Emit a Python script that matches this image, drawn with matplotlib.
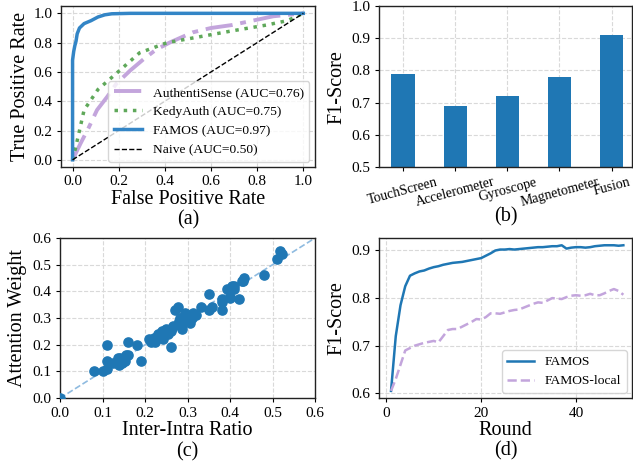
import matplotlib
matplotlib.use("Agg")
import matplotlib.pyplot as plt
import numpy as np

plt.rcParams["font.family"] = ["Liberation Serif", "DejaVu Serif"]

# (a) ROC curves
famos_fpr = [0.0, 0.0, 0.005, 0.01, 0.015, 0.02, 0.025, 0.03, 0.05, 0.08, 0.11, 0.14, 0.17, 0.25, 0.5, 1.0]
famos_tpr = [0.0, 0.68, 0.74, 0.78, 0.81, 0.86, 0.88, 0.90, 0.93, 0.95, 0.975, 0.99, 0.997, 1.0, 1.0, 1.0]
auth_fpr = [0.0, 0.034, 0.07, 0.106, 0.15, 0.19, 0.25, 0.31, 0.36, 0.42, 0.52, 0.6, 0.69, 0.78, 0.87, 1.0]
auth_tpr = [0.0, 0.11, 0.22, 0.34, 0.43, 0.52, 0.61, 0.69, 0.75, 0.80, 0.87, 0.90, 0.92, 0.95, 0.98, 1.0]
kedy_fpr = [0.0, 0.01, 0.02, 0.05, 0.11, 0.19, 0.29, 0.41, 0.55, 0.69, 0.84, 0.93, 1.0]
kedy_tpr = [0.0, 0.06, 0.13, 0.34, 0.48, 0.59, 0.73, 0.80, 0.84, 0.88, 0.92, 0.95, 1.0]

# (b) per-modality F1
modalities = ["TouchScreen", "Accelerometer", "Gyroscope", "Magnetometer", "Fusion"]
modality_f1 = [0.79, 0.69, 0.72, 0.78, 0.91]

# (c) inter-intra ratio vs attention weight
ratio = [0.0, 0.081, 0.10, 0.11, 0.111, 0.111, 0.125, 0.137, 0.139, 0.145, 0.15, 0.155, 0.153,
         0.16, 0.18, 0.19, 0.21, 0.215, 0.22, 0.223, 0.227, 0.23, 0.239, 0.243, 0.247, 0.251,
         0.255, 0.259, 0.261, 0.263, 0.266, 0.27, 0.278, 0.28, 0.282, 0.286, 0.288, 0.292,
         0.295, 0.30, 0.306, 0.31, 0.313, 0.321, 0.332, 0.35, 0.351, 0.357, 0.38, 0.382,
         0.382, 0.392, 0.40, 0.40, 0.409, 0.41, 0.42, 0.427, 0.433, 0.48, 0.51, 0.518, 0.522,
         0.14, 0.145, 0.16, 0.24, 0.25, 0.26, 0.28, 0.29, 0.31, 0.405, 0.43]
weight = [0.0, 0.10, 0.10, 0.11, 0.14, 0.20, 0.13, 0.15, 0.125, 0.14, 0.15, 0.16, 0.14,
          0.21, 0.20, 0.14, 0.22, 0.21, 0.225, 0.21, 0.23, 0.24, 0.23, 0.22, 0.24, 0.256,
          0.24, 0.256, 0.19, 0.262, 0.27, 0.33, 0.34, 0.29, 0.30, 0.26, 0.28, 0.29,
          0.32, 0.30, 0.28, 0.30, 0.32, 0.31, 0.34, 0.39, 0.33, 0.34, 0.33, 0.36,
          0.37, 0.41, 0.375, 0.38, 0.42, 0.41, 0.37, 0.44, 0.45, 0.46, 0.52, 0.55, 0.54,
          0.15, 0.13, 0.16, 0.25, 0.26, 0.25, 0.28, 0.30, 0.31, 0.42, 0.44]

# (d) F1 over federated rounds
rounds = list(range(1, 51))
famos_f1 = [0.605, 0.72, 0.785, 0.825, 0.847, 0.852, 0.856, 0.858, 0.862, 0.865,
            0.867, 0.870, 0.872, 0.874, 0.875, 0.876, 0.878, 0.880, 0.882, 0.884,
            0.889, 0.894, 0.900, 0.902, 0.902, 0.903, 0.902, 0.903, 0.904, 0.905,
            0.906, 0.907, 0.907, 0.908, 0.909, 0.909, 0.911, 0.904, 0.906, 0.907,
            0.907, 0.906, 0.907, 0.909, 0.910, 0.911, 0.911, 0.911, 0.910, 0.911]
local_f1 = [0.605, 0.63, 0.66, 0.69, 0.695, 0.700, 0.703, 0.706, 0.708, 0.710,
            0.707, 0.720, 0.733, 0.735, 0.735, 0.740, 0.745, 0.750, 0.756, 0.755,
            0.760, 0.768, 0.768, 0.767, 0.770, 0.773, 0.775, 0.776, 0.780, 0.784,
            0.788, 0.791, 0.790, 0.795, 0.800, 0.799, 0.798, 0.802, 0.805, 0.806,
            0.805, 0.806, 0.809, 0.806, 0.806, 0.810, 0.815, 0.819, 0.815, 0.807]

blue = "#1f77b4"
lavender = "#c3a5dc"
green = "#5fa85a"

fig = plt.figure(figsize=(6.33, 4.63), dpi=100)
ax_a = fig.add_axes([0.0964, 0.639, 0.401, 0.348])
ax_b = fig.add_axes([0.599, 0.639, 0.400, 0.348])
ax_c = fig.add_axes([0.0948, 0.140, 0.403, 0.346])
ax_d = fig.add_axes([0.599, 0.140, 0.400, 0.346])

for ax in (ax_a, ax_b, ax_c, ax_d):
    ax.grid(True, linestyle="--", color="#d9d9d9", linewidth=0.8)
    ax.set_axisbelow(True)
    ax.tick_params(labelsize=11, length=3, pad=3)
    for s in ax.spines.values():
        s.set_linewidth(1.0)
        s.set_color("#222222")

# (a)
ax_a.plot(auth_fpr, auth_tpr, color=lavender, linewidth=2.8, dashes=(7, 2, 1.5, 2),
          label="AuthentiSense (AUC=0.76)")
ax_a.plot(kedy_fpr, kedy_tpr, color=green, linewidth=2.5, linestyle=":",
          label="KedyAuth (AUC=0.75)")
ax_a.plot(famos_fpr, famos_tpr, color="#3385c6", linewidth=2.5, label="FAMOS (AUC=0.97)")
ax_a.plot([0, 1], [0, 1], color="black", linewidth=1.0, linestyle="--", label="Naive (AUC=0.50)")
ax_a.set_xlim(-0.05, 1.05)
ax_a.set_ylim(-0.05, 1.05)
ax_a.set_xticks(np.arange(0, 1.01, 0.2))
ax_a.set_yticks(np.arange(0, 1.01, 0.2))
ax_a.set_xlabel("False Positive Rate", fontsize=14.5, labelpad=1)
ax_a.set_ylabel("True Positive Rate", fontsize=14.5, labelpad=3)
ax_a.legend(loc="lower right", fontsize=9.7, framealpha=0.8, borderaxespad=0.4,
            handlelength=2.1)

# (b)
ax_b.bar(range(len(modalities)), modality_f1, width=0.45, color=blue)
ax_b.set_ylim(0.5, 1.0)
ax_b.set_xlim(-0.46, 4.4)
ax_b.set_xticks(range(len(modalities)))
ax_b.set_xticklabels(modalities, rotation=15, ha="center", fontsize=10)
ax_b.set_ylabel("F1-Score", fontsize=14.5)

# (c)
ax_c.plot([0, 0.6], [0, 0.6], linestyle="--", color="#8fbbe0", linewidth=1.2)
ax_c.scatter(ratio, weight, s=44, color=blue, zorder=3)
ax_c.set_xlim(0, 0.6)
ax_c.set_ylim(0, 0.6)
ax_c.set_xticks(np.arange(0, 0.61, 0.1))
ax_c.set_yticks(np.arange(0, 0.61, 0.1))
ax_c.set_xlabel("Inter-Intra Ratio", fontsize=14.5, labelpad=1)
ax_c.set_ylabel("Attention Weight", fontsize=14.5)

# (d)
ax_d.plot(rounds, famos_f1, color=blue, linewidth=1.8, label="FAMOS")
ax_d.plot(rounds, local_f1, color=lavender, linewidth=1.8, linestyle="--", label="FAMOS-local")
ax_d.set_xlim(-1.5, 51.9)
ax_d.set_yticks([0.6, 0.7, 0.8, 0.9])
ax_d.set_xlabel("Round", fontsize=14.5, labelpad=1)
ax_d.set_ylabel("F1-Score", fontsize=14.5)
ax_d.legend(loc="lower right", fontsize=9.7, borderaxespad=0.4)

for ax, tag, y in ((ax_a, "(a)", 0.525), (ax_b, "(b)", 0.531), (ax_c, "(c)", 0.024), (ax_d, "(d)", 0.026)):
    pos = ax.get_position()
    fig.text(pos.x0 + pos.width / 2, y, tag, ha="center", va="center", fontsize=14.5)

fig.savefig("out.png", dpi=100)
